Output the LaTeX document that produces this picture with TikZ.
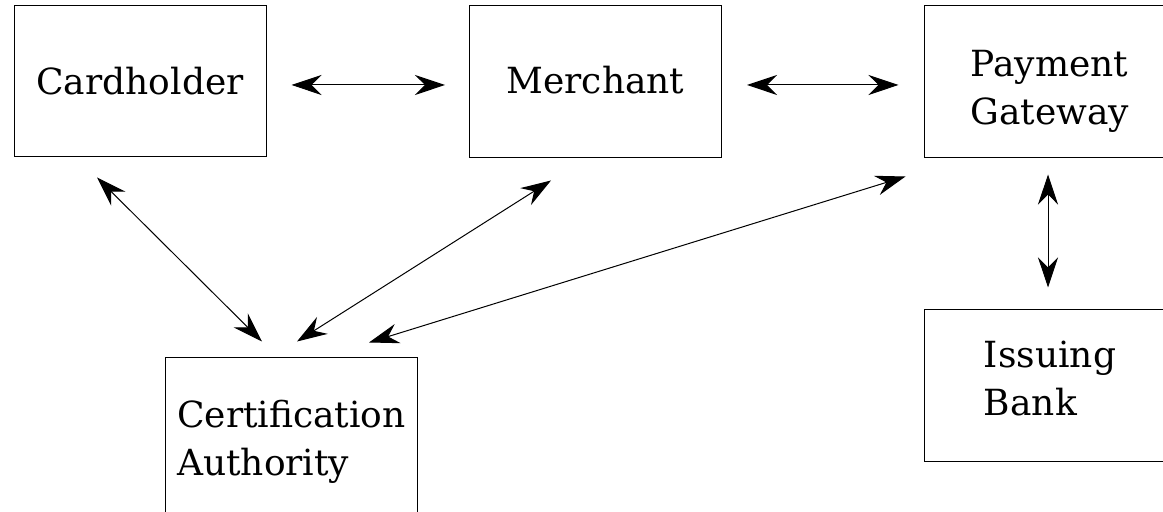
\documentclass[tikz,border=0pt]{standalone}
\usepackage{fontspec}
\setmainfont{DejaVu Serif}
\usepackage{tikz}
\usetikzlibrary{arrows.meta,calc}

\tikzset{
    box/.style={draw, line width=0.5pt, minimum width=126pt, inner sep=0pt},
    boxtext/.style={align=left, inner sep=0pt, font=\fontsize{18}{24}\selectfont},
    biarrow/.style={line width=0.5pt, {Stealth[length=15pt,width=10pt,inset=5pt]}-{Stealth[length=15pt,width=10pt,inset=5pt]}}
}

\begin{document}
\begin{tikzpicture}[x=0.5pt, y=-0.5pt]
    \path[use as bounding box, clip] (0,0) rectangle (1163,512);
    % Boxes
    \foreach \name/\x/\y/\h in {ch/140/81.5/151, m/595.5/82/152, pg/1050/82/152, ib/1050/386/152, ca/291.5/441/166} {
        \node[box, minimum height=\h*0.5pt] (\name) at (\x,\y) {};
    }
    % Texts inside the boxes
    \foreach \name/\x/\y/\txt in {ch/140/81.5/Cardholder, m/595.5/80.5/Merchant, pg/1050/91/{Payment\\Gateway}, ib/1050/379/{Issuing\\Bank}, ca/291.5/441.5/{Certification\\Authority}} {
        \node[boxtext] (\name txt) at (\x,\y) {\txt};
    }
    % Top row
    \draw[biarrow] ($(ch.east)+(25,3.5)$) -- ($(m.west)+(-24,3)$);
    \draw[biarrow] ($(m.east)+(25,3)$) -- ($(pg.west)+(-25,3)$);
    % Gateway to bank
    \draw[biarrow] ($(pg.south)+(-2,16)$) -- ($(ib.north)+(-2,-22)$);
    % Everyone to the certification authority
    \draw[biarrow] ($(ch.south)+(-43,20)$) -- ($(ca.north)+(-29.5,-16)$);
    \draw[biarrow] ($(m.south)+(-44.5,22)$) -- ($(ca.north)+(5.5,-16)$);
    \draw[biarrow] ($(pg.south west)+(-18,18)$) -- ($(ca.north)+(77.5,-15)$);
\end{tikzpicture}
\end{document}
